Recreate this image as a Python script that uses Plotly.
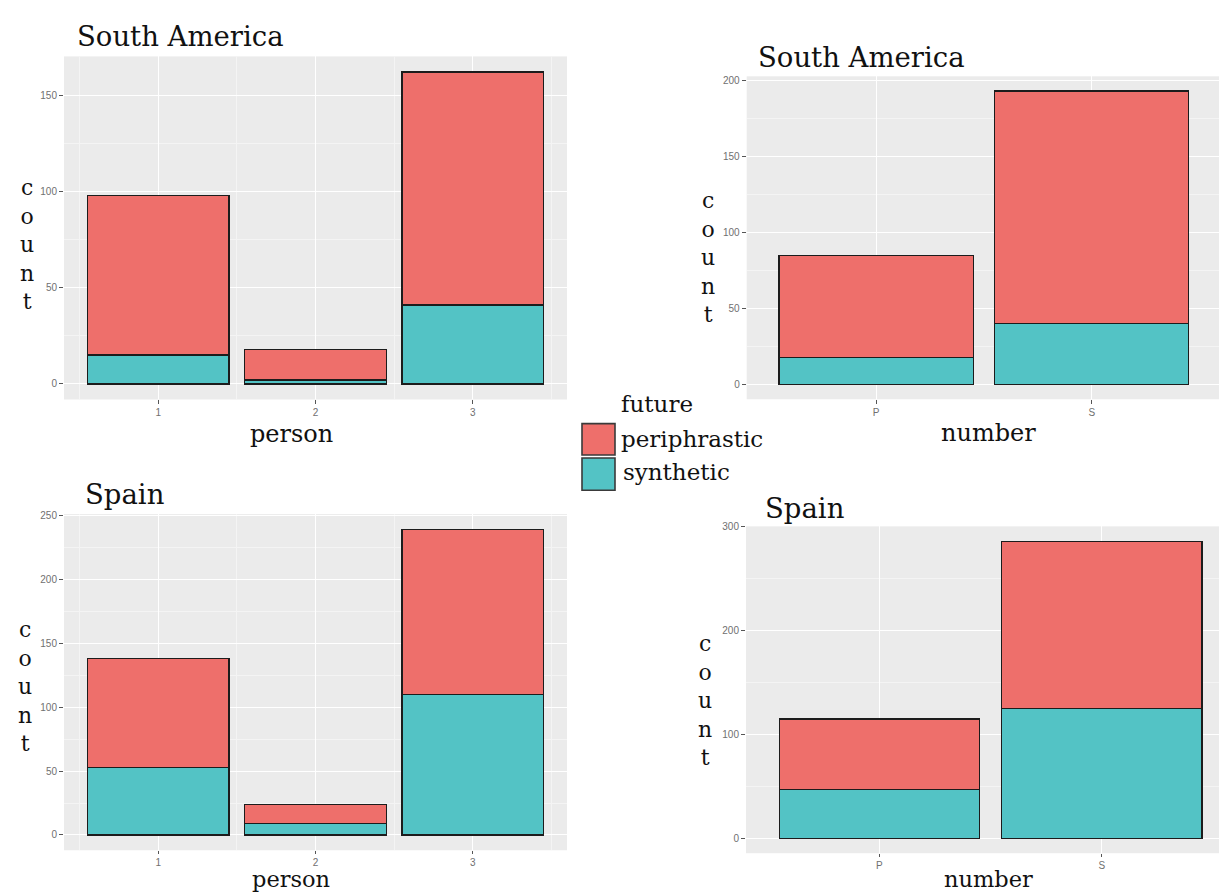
import plotly.graph_objects as go

# ---- data -------------------------------------------------------------
person = [1, 2, 3]
number = ["P", "S"]

sa_person_synthetic = [15, 2, 41]
sa_person_periphrastic = [83, 16, 121]

sa_number_synthetic = [18, 40]
sa_number_periphrastic = [67, 153]

es_person_synthetic = [53, 9, 110]
es_person_periphrastic = [85, 15, 129]

es_number_synthetic = [47, 125]
es_number_periphrastic = [68, 161]

person_ticks = ["1", "2", "3"]
number_ticks = ["P", "S"]

# ---- styling ----------------------------------------------------------
W, H = 1219, 894
RED = "#EE6F6B"
TEAL = "#53C3C5"
PANEL_BG = "#EBEBEB"
SERIF = "DejaVu Serif"
SANS = "Liberation Sans"


def px(x):
    return x / W


def py(y):
    return 1 - y / H


def y_range(syn, peri):
    top = max(s + p for s, p in zip(syn, peri))
    return [-0.05 * top, 1.05 * top]


fig = go.Figure()

panels = [
    # (x values, synthetic, periphrastic, axis suffix)
    (person, sa_person_synthetic, sa_person_periphrastic, ""),
    (number, sa_number_synthetic, sa_number_periphrastic, "2"),
    (person, es_person_synthetic, es_person_periphrastic, "3"),
    (number, es_number_synthetic, es_number_periphrastic, "4"),
]

for xs, syn, peri, k in panels:
    for vals, name, col in ((syn, "synthetic", TEAL), (peri, "periphrastic", RED)):
        fig.add_trace(go.Bar(
            x=xs, y=vals, name=name, width=0.9,
            marker=dict(color=col, line=dict(color="#1c1c1c", width=1.3)),
            xaxis="x" + k, yaxis="y" + k, showlegend=False,
        ))

common_y = dict(
    showgrid=True, gridcolor="white", gridwidth=1.3, zeroline=False,
    ticks="outside", ticklen=4, tickwidth=1, tickcolor="#555555",
    tickfont=dict(family=SANS, size=10, color="#707070"),
    showline=False, fixedrange=True,
)
common_x = dict(
    showgrid=True, gridcolor="white", gridwidth=1.3, zeroline=False,
    ticks="outside", ticklen=4, tickwidth=1, tickcolor="#555555",
    tickfont=dict(family=SANS, size=10, color="#707070"),
    showline=False, fixedrange=True,
)
minor_grid = dict(showgrid=True, gridcolor="#F4F4F4", gridwidth=0.6, ticks="")

layout_axes = {}

# top-left: South America by person
layout_axes["xaxis"] = dict(common_x, domain=[px(64), px(567)], anchor="y",
                            range=[0.4, 3.6], tickvals=person, ticktext=person_ticks,
                            minor=dict(minor_grid, tick0=0.5, dtick=1))
layout_axes["yaxis"] = dict(common_y, domain=[py(396.7), py(51.7)], anchor="x",
                            range=y_range(sa_person_synthetic, sa_person_periphrastic),
                            tick0=0, dtick=50, minor=dict(minor_grid, tick0=25, dtick=50))

# top-right: South America by number
layout_axes["xaxis2"] = dict(common_x, domain=[px(746.7), 1.0], anchor="y2",
                             type="category", range=[-0.6, 1.59],
                             tickvals=number, ticktext=number_ticks)
layout_axes["yaxis2"] = dict(common_y, domain=[py(396.5), py(71.7)], anchor="x2",
                             range=y_range(sa_number_synthetic, sa_number_periphrastic),
                             tick0=0, dtick=50, minor=dict(minor_grid, tick0=25, dtick=50))

# bottom-left: Spain by person
layout_axes["xaxis3"] = dict(common_x, domain=[px(64), px(567)], anchor="y3",
                             range=[0.4, 3.6], tickvals=person, ticktext=person_ticks,
                             ticklen=3, minor=dict(minor_grid, tick0=0.5, dtick=1))
layout_axes["yaxis3"] = dict(common_y, domain=[py(850), py(512)], anchor="x3",
                             range=y_range(es_person_synthetic, es_person_periphrastic),
                             tick0=0, dtick=50, minor=dict(minor_grid, tick0=25, dtick=50))

# bottom-right: Spain by number
layout_axes["xaxis4"] = dict(common_x, domain=[px(746), 1.0], anchor="y4",
                             type="category", range=[-0.6, 1.527], ticklen=3,
                             tickvals=number, ticktext=number_ticks)
layout_axes["yaxis4"] = dict(common_y, domain=[py(853), py(524.3)], anchor="x4",
                             range=y_range(es_number_synthetic, es_number_periphrastic),
                             tick0=0, dtick=100, minor=dict(minor_grid, tick0=50, dtick=100))

annotations = []


def text(x, y, s, size, xanchor="left", yanchor="middle"):
    annotations.append(dict(
        x=px(x), y=py(y), xref="paper", yref="paper", text=s, showarrow=False,
        xanchor=xanchor, yanchor=yanchor,
        font=dict(family=SERIF, size=size, color="#111111"),
    ))


# panel titles
text(75, 31.5, "South America", 27.5)
text(756, 52.5, "South America", 27.5)
text(83, 492, "Spain", 27.5)
text(763, 505.5, "Spain", 27.5)

# stacked vertical "count" labels
count = "c<br>o<br>u<br>n<br>t"
text(27, 241, count, 22, xanchor="center")
text(708, 254, count, 22, xanchor="center")
text(25, 685, count, 22, xanchor="center")
text(705, 699, count, 22, xanchor="center")

# x-axis titles
text(291, 431, "person", 24, xanchor="center")
text(988, 430, "number", 24, xanchor="center")
text(291, 894, "person", 22.5, xanchor="center", yanchor="bottom")
text(988, 894, "number", 22.5, xanchor="center", yanchor="bottom")

# legend
text(619, 401.7, "future", 23)
text(619, 436.7, "periphrastic", 23)
text(621, 470, "synthetic", 23)

shapes = [
    dict(type="rect", xref="paper", yref="paper",
         x0=px(582), x1=px(615), y0=py(452.5), y1=py(421),
         fillcolor=RED, line=dict(color="#3a3a3a", width=1.6)),
    dict(type="rect", xref="paper", yref="paper",
         x0=px(582), x1=px(615), y0=py(488), y1=py(455.5),
         fillcolor=TEAL, line=dict(color="#3a3a3a", width=1.6)),
]

fig.update_layout(
    width=W, height=H,
    margin=dict(l=0, r=0, t=0, b=0),
    paper_bgcolor="white",
    plot_bgcolor=PANEL_BG,
    barmode="stack",
    bargap=0.1,
    showlegend=False,
    annotations=annotations,
    shapes=shapes,
    **layout_axes,
)

fig.write_html("out.html")
